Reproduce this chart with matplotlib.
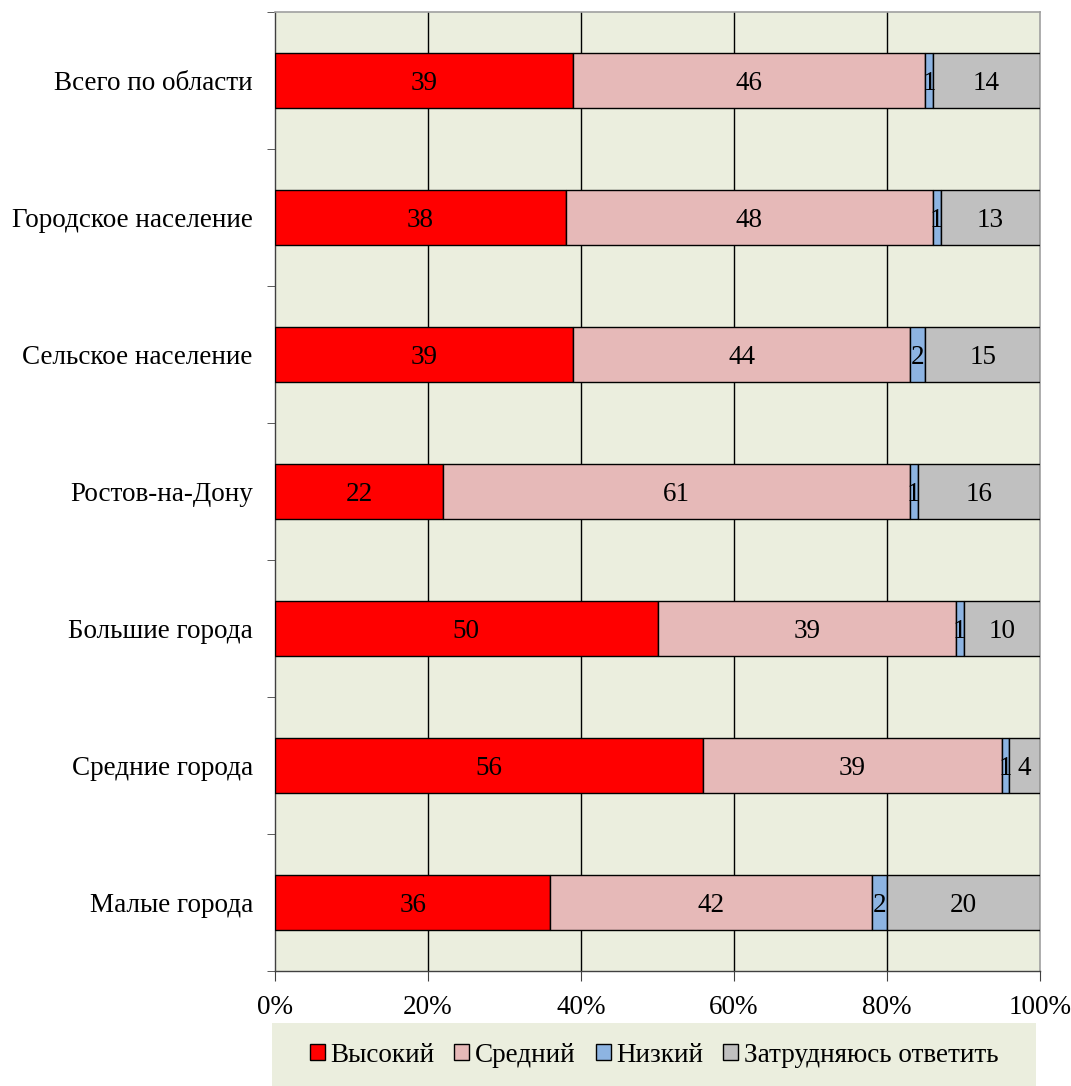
import matplotlib
matplotlib.use("Agg")
import matplotlib.pyplot as plt
from matplotlib.patches import Rectangle
import numpy as np

plt.rcParams['font.family'] = ['Liberation Serif', 'DejaVu Serif']

categories = ["Всего по области", "Городское население", "Сельское население",
              "Ростов-на-Дону", "Большие города", "Средние города", "Малые города"]
series_names = ["Высокий", "Средний", "Низкий", "Затрудняюсь ответить"]
vysokiy = [39, 38, 39, 22, 50, 56, 36]
sredniy = [46, 48, 44, 61, 39, 39, 42]
nizkiy = [1, 1, 2, 1, 1, 1, 2]
zatrud = [14, 13, 15, 16, 10, 4, 20]
xtick_labels = ["0%", "20%", "40%", "60%", "80%", "100%"]

colors = ["#FF0000", "#E6B9B8", "#8DB4E2", "#C0C0C0"]
bg = "#EBEEDE"
FS = 19.5

fig = plt.figure(figsize=(10.71, 10.86), dpi=100)
ax = fig.add_axes([275/1071, 1-971/1086, (1040-275)/1071, (971-12)/1086])
ax.set_facecolor(bg)

data = [vysokiy, sredniy, nizkiy, zatrud]
n = len(categories)
y = np.arange(n)
left = np.zeros(n)
for vals, col, name in zip(data, colors, series_names):
    vals = np.array(vals, dtype=float)
    ax.barh(y, vals, left=left, height=0.4, color=col, edgecolor="black",
            linewidth=1.0, label=name, zorder=3)
    for yi, l, v in zip(y, left, vals):
        ax.text(l + v/2, yi + 0.02, f"{int(v)}", ha="center", va="center", fontsize=FS,
                zorder=4)
    left += vals

ax.set_xlim(0, 100)
ax.set_ylim(n - 0.5, -0.5)
ax.set_xticks([0, 20, 40, 60, 80, 100])
ax.set_xticklabels(xtick_labels, fontsize=FS)
ax.set_yticks(y)
ax.set_yticklabels(categories, fontsize=FS)
ax.tick_params(axis="y", length=0, pad=16)
ax.set_yticks(np.arange(-0.5, n, 1.0), minor=True)
ax.tick_params(axis="y", which="minor", length=6, direction="out", color="#404040")
ax.tick_params(axis="x", length=7, direction="out", pad=10, color="#404040")

for xv in [20, 40, 60, 80]:
    ax.axvline(xv, color="black", linewidth=1.0, zorder=1)

for s in ["top", "right"]:
    ax.spines[s].set_color("#A0A0A0")
    ax.spines[s].set_linewidth(1.2)
for s in ["left", "bottom"]:
    ax.spines[s].set_color("#404040")
    ax.spines[s].set_linewidth(1.0)

# legend box
fig.patches.append(Rectangle((272/1071, 0), (1036-272)/1071, (1086-1023)/1086,
                             transform=fig.transFigure, facecolor=bg, edgecolor="none"))
handles, labels = ax.get_legend_handles_labels()
fig.legend(handles, labels, loc="center", bbox_to_anchor=(654/1071, 1-1055/1086),
           ncol=4, frameon=False, fontsize=FS, handlelength=0.55, handleheight=0.55,
           handletextpad=0.2, columnspacing=0.75)

fig.savefig("out.png", dpi=100)
